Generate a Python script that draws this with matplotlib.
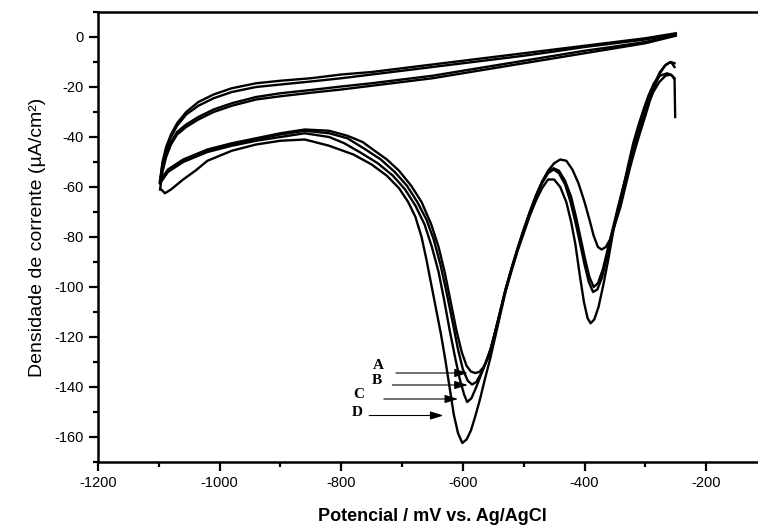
import matplotlib
matplotlib.use("Agg")
import matplotlib.pyplot as plt
from matplotlib.ticker import MultipleLocator

# cyclic voltammograms A-D (mV vs Ag/AgCl, uA/cm2)

# forward sweep (upper branch), shared potentials
up_x = [-250, -300, -350, -400, -450, -500, -550, -600, -650, -700, -750, -800,
        -850, -900, -940, -980, -1010, -1035, -1055, -1070, -1080, -1088, -1094, -1098]
up_A = [1.5, -0.5, -2, -3.5, -5, -6.5, -8, -9.5, -11, -12.5, -14, -15,
        -16.5, -17.5, -18.5, -20.5, -23, -26, -30, -34.5, -39, -44, -50, -57.5]
up_B = [1.2, -1, -2.5, -4, -5.8, -7.5, -9, -10.5, -12, -13.5, -15, -16.5,
        -17.8, -19, -20, -22, -24.5, -27.5, -31, -35.5, -40, -45, -51, -58]
up_C = [0.8, -2, -3.8, -5.5, -7.5, -9.5, -11.5, -13.5, -15.5, -17, -18.5, -19.8,
        -21.2, -22.5, -24, -26.5, -29, -32, -35, -38, -42, -46.5, -52, -58.5]
up_D = [0.5, -2.5, -4.5, -6.5, -8.5, -10.5, -12.5, -14.5, -16.5, -18, -19.5, -21,
        -22.3, -23.7, -25, -27.5, -30, -33, -36, -39, -43, -48, -54, -61]

# reverse sweep (lower branch with the two peaks)
low_A_x = [-1098, -1085, -1060, -1020, -980, -940, -900, -860, -820, -790, -765, -748,
           -725, -705, -685, -668, -652, -640, -630, -620, -611, -602, -594, -587,
           -580, -573, -566, -558, -550, -540, -530, -520, -510, -500, -490, -480,
           -470, -460, -450, -440, -430, -420, -410, -400, -392, -385, -378, -372,
           -365, -358, -350, -341, -333, -325, -317, -309, -300, -292, -284, -276,
           -268, -259, -252]
low_A_y = [-57.5, -53, -49, -45, -42.5, -40.5, -38.5, -37, -37.5, -39.5, -42, -45,
           -49, -53.5, -59.5, -66, -75, -84, -94, -106, -117, -126, -131.5, -133.8,
           -134.4, -134, -132, -128, -121, -111, -101, -92.5, -84.5, -77, -70, -63.5,
           -58, -53.5, -50.5, -49, -49.5, -53, -58.5, -66, -73, -79.5, -84, -85,
           -84, -81, -75, -68, -60, -52, -45, -38.5, -31.5, -25, -19.5, -14.5,
           -11.5, -10, -10.5]

low_B_x = [-1098, -1085, -1060, -1020, -980, -940, -900, -860, -820, -790, -760, -735,
           -712, -692, -675, -660, -648, -637, -627, -617, -608, -600, -592, -585,
           -578, -570, -562, -554, -546, -540, -530, -520, -510, -500, -490, -480,
           -470, -460, -451, -442, -432, -422, -414, -406, -399, -392, -385, -378,
           -370, -362, -354, -345, -336, -326, -316, -306, -296, -286, -276, -266,
           -258, -252]
low_B_y = [-58, -53.5, -49.5, -45.5, -43, -41, -39, -37.5, -38.5, -40.5, -45, -49,
           -54, -59.5, -66, -73, -81, -91, -102, -114, -125, -133, -137.5, -139,
           -138, -134.5, -130, -124.5, -117, -111, -101, -92.5, -84.5, -77, -70, -63.5,
           -58, -54, -52.5, -53.5, -57.5, -64, -72, -81, -89, -96, -100, -98.5,
           -93, -85, -77, -68, -59.5, -50, -41, -33, -25.5, -19, -14, -11,
           -10, -12]

low_C_x = [-1098, -1085, -1060, -1020, -980, -940, -900, -860, -820, -795, -770, -740,
           -715, -695, -678, -663, -651, -640, -631, -622, -613, -605, -598, -593,
           -586, -578, -570, -562, -554, -546, -540, -530, -520, -510, -500, -490,
           -480, -470, -460, -451, -442, -432, -423, -415, -407, -400, -393, -386,
           -379, -371, -363, -355, -346, -337, -327, -317, -307, -297, -287, -277,
           -267, -258, -252]
low_C_y = [-58.5, -54, -50, -46, -43.5, -41.5, -40, -38.5, -40, -42.5, -46, -50.5,
           -55.5, -61, -67.5, -75, -84, -94, -105, -117, -128, -137, -143, -146,
           -144.5, -140, -135, -130, -124.5, -117, -111.5, -101.5, -93, -85, -77.5, -70.5,
           -64, -58.5, -54.5, -53, -54.5, -59, -66, -74, -83, -91, -98, -102,
           -101, -96, -88, -79, -70, -61, -51.5, -42.5, -34.5, -27.5, -22, -18,
           -15.5, -15, -16.5]

low_D_x = [-1096, -1090, -1080, -1060, -1040, -1020, -980, -940, -900, -860, -820, -780,
           -750, -725, -705, -690, -678, -668, -660, -652, -644, -636, -629, -622,
           -615, -608, -601, -594, -587, -580, -572, -564, -555, -546, -538, -530,
           -520, -510, -500, -490, -480, -470, -460, -450, -440, -430, -422, -415,
           -408, -401, -395, -390, -384, -377, -369, -361, -353, -345, -336, -328,
           -320, -311, -303, -295, -286, -276, -264, -256, -252, -251]
low_D_y = [-61, -62.5, -61, -57, -53.5, -49.5, -45.5, -43, -41.5, -41, -43.5, -47,
           -51, -55.5, -60.5, -66, -72, -80, -89, -99, -109, -119, -129, -140,
           -151, -158.5, -162.4, -161, -157.5, -152, -145, -137, -128.5, -119, -110.5, -102,
           -93.5, -85.5, -78.5, -71.5, -65.5, -60.5, -57, -57, -60, -66, -74, -83,
           -95, -106, -112.5, -114.5, -113, -108, -99, -89, -78, -69, -60, -51,
           -42.5, -35, -29, -23.5, -18.5, -15.5, -14.5, -15.5, -17, -32]

curves = [
    (up_A, low_A_x, low_A_y),
    (up_B, low_B_x, low_B_y),
    (up_C, low_C_x, low_C_y),
    (up_D, low_D_x, low_D_y),
]

# arrow labels: (text, text pos, arrow start, arrow tip)
labels = ["A", "B", "C", "D"]
label_xy = [(-739, -131.5), (-741, -137.6), (-771, -143.2), (-774, -150.4)]
arrow_from = [(-710, -134.4), (-716, -139.2), (-730, -144.8), (-754, -151.4)]
arrow_to = [(-592, -134.4), (-592, -139.2), (-608, -144.8), (-632, -151.4)]

plt.rcParams['font.family'] = ['Liberation Sans', 'DejaVu Sans']
plt.rcParams['axes.unicode_minus'] = False

fig = plt.figure(figsize=(7.58, 5.30), dpi=100)
ax = fig.add_axes([98 / 758, 68 / 530, 669 / 758, 450 / 530])

for up_y, lx, ly in curves:
    ax.plot(up_x, up_y, color='black', lw=1.7, solid_joinstyle='round')
    ax.plot(lx, ly, color='black', lw=1.7, solid_joinstyle='round')

for txt, txy, p0, p1 in zip(labels, label_xy, arrow_from, arrow_to):
    ax.text(txy[0], txy[1], txt, family=['Liberation Serif', 'DejaVu Serif'],
            fontweight='bold', fontsize=11, ha='center', va='center')
    ax.annotate('', xy=p1, xytext=p0,
                arrowprops=dict(arrowstyle='-|>,head_length=0.8,head_width=0.25',
                                color='black', lw=0.8, mutation_scale=10,
                                shrinkA=0, shrinkB=0))

ax.set_xlim(-1200, -100)
ax.set_ylim(-170, 10)
ax.xaxis.set_major_locator(MultipleLocator(200))
ax.xaxis.set_minor_locator(MultipleLocator(100))
ax.yaxis.set_major_locator(MultipleLocator(20))
ax.yaxis.set_minor_locator(MultipleLocator(10))

for side in ['left', 'bottom', 'top']:
    ax.spines[side].set_linewidth(1.8)
ax.spines['right'].set_visible(False)
ax.tick_params(which='major', direction='out', length=6.5, width=1.6,
               labelsize=10.5, top=False, right=False)
ax.tick_params(which='minor', direction='out', length=3.5, width=1.6,
               top=False, right=False)

ax.set_xlabel('Potencial / mV vs. Ag/AgCl', fontsize=13, fontweight='bold', labelpad=13)
ax.set_ylabel('Densidade de corrente (µA/cm²)', fontsize=14, labelpad=6)

fig.savefig('out.png', dpi=100)
